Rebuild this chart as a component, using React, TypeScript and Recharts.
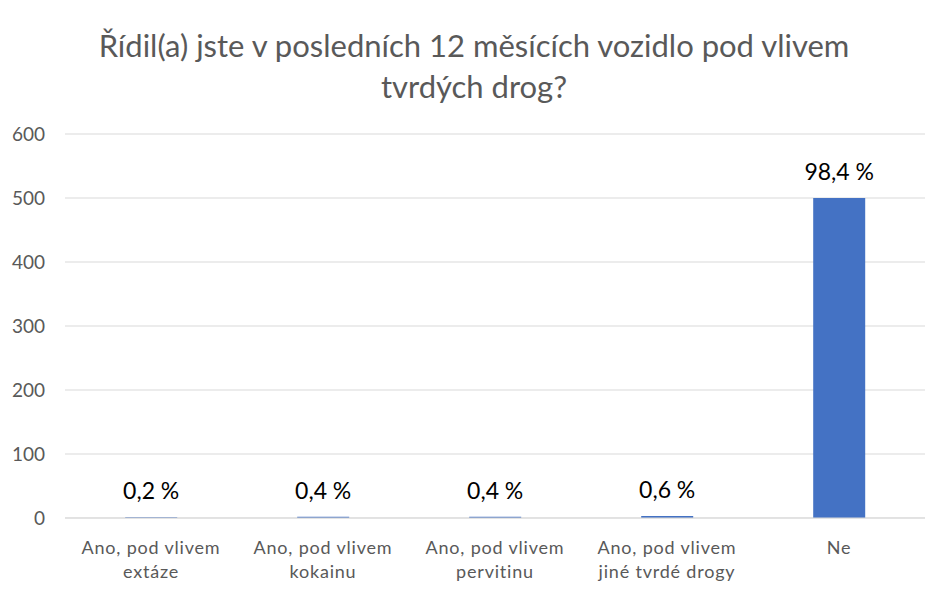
import { BarChart, Bar, XAxis, YAxis, CartesianGrid, LabelList } from 'recharts';

const categories = [
  'Ano, pod vlivem|extáze',
  'Ano, pod vlivem|kokainu',
  'Ano, pod vlivem|pervitinu',
  'Ano, pod vlivem|jiné tvrdé drogy',
  'Ne',
];
const counts = [1, 2, 2, 3, 500];
const yTicks = [0, 100, 200, 300, 400, 500, 600];

const total = counts.reduce((a, b) => a + b, 0);
const data = categories.map((name, i) => ({ name, value: counts[i] }));

const FONT = 'Lato, "Open Sans", sans-serif';

function pct(v: number) {
  return `${((v / total) * 100).toFixed(1).replace('.', ',')} %`;
}

function CategoryTick(props: any) {
  const { x, y, payload } = props;
  const lines = String(payload.value).split('|');
  return (
    <text
      x={x} y={y} textAnchor="middle" fill="#595959"
      fontSize={18} letterSpacing={0.8} fontFamily={FONT}
    >
      {lines.map((l, i) => (
        <tspan key={i} x={x} dy={i === 0 ? 28 : 24}>{l}</tspan>
      ))}
    </text>
  );
}

export default function App() {
  return (
    <div style={{ position: 'relative', width: 932, height: 595, background: '#fff' }}>
      <style>{'body{margin:0}'}</style>
      <div
        style={{
          position: 'absolute', top: 25, left: 0, width: 948, textAlign: 'center',
          fontFamily: FONT, fontSize: 31, lineHeight: '41px', color: '#595959',
        }}
      >
        Řídil(a) jste v posledních 12 měsících vozidlo pod vlivem<br />tvrdých drog?
      </div>
      <BarChart
        width={932}
        height={595}
        data={data}
        margin={{ top: 134, right: 7, bottom: 17, left: 0 }}
        barCategoryGap="35%"
      >
        <CartesianGrid vertical={false} stroke="#d9d9d9" />
        <XAxis
          dataKey="name"
          tick={<CategoryTick />}
          axisLine={{ stroke: '#d9d9d9' }}
          tickLine={false}
          interval={0}
          height={60}
        />
        <YAxis
          domain={[0, 600]}
          ticks={yTicks}
          width={65}
          axisLine={false}
          tickLine={false}
          tickSize={0}
          tickMargin={20}
          tick={{ fontSize: 19, fill: '#595959', fontFamily: FONT }}
        />
        <Bar dataKey="value" fill="#4472C4" isAnimationActive={false}>
          <LabelList
            dataKey="value"
            position="top"
            offset={18}
            formatter={(v: any) => pct(Number(v))}
            style={{ fontSize: 23, fill: '#000', fontFamily: FONT }}
          />
        </Bar>
      </BarChart>
    </div>
  );
}
